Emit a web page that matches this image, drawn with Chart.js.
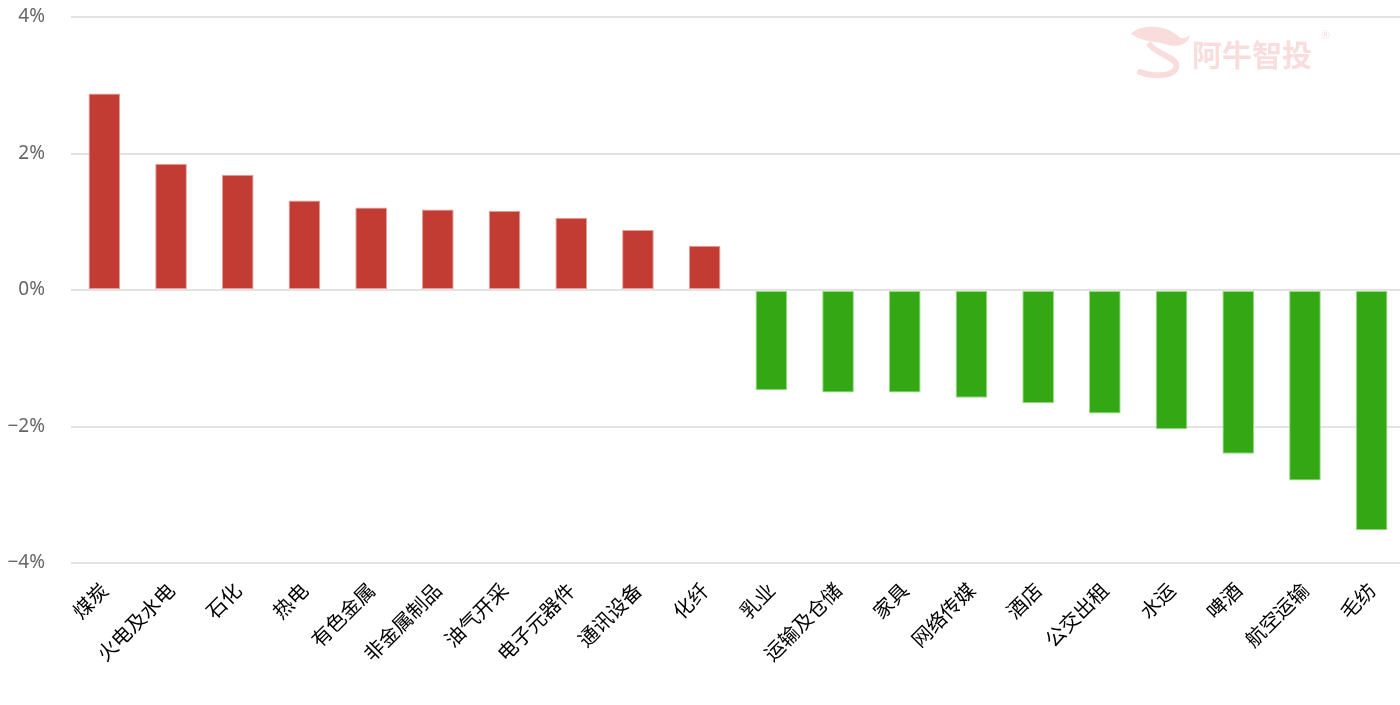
<!DOCTYPE html>
<html>
<head>
<meta charset="utf-8">
<script src="https://cdn.jsdelivr.net/npm/chart.js@4.4.1/dist/chart.umd.min.js"></script>
<style>
  html, body { margin: 0; padding: 0; background: #fff; overflow: hidden; }
  #wrap { position: relative; width: 1405px; height: 705px; }
</style>
</head>
<body>
<div id="wrap"><canvas id="c"></canvas></div>
<script>
// ---- data ----
const categories = ['煤炭','火电及水电','石化','热电','有色金属','非金属制品','油气开采','电子元器件','通讯设备','化纤',
                    '乳业','运输及仓储','家具','网络传媒','酒店','公交出租','水运','啤酒','航空运输','毛纺'];
const changes = [2.88, 1.85, 1.69, 1.31, 1.21, 1.18, 1.16, 1.06, 0.88, 0.65,
                 -1.47, -1.50, -1.50, -1.58, -1.66, -1.81, -2.04, -2.40, -2.79, -3.52];
const yTicks = [-4, -2, 0, 2, 4];
const watermarkText = '阿牛智投';

const upColor = '#c23c33', upBorder = '#e3a09c';
const downColor = '#33a814', downBorder = '#98dc86';

const watermark = {
  id: 'watermark',
  beforeDatasetsDraw(chart) {
    const ctx = chart.ctx;
    ctx.save();
    ctx.fillStyle = 'rgba(236,150,150,0.32)';
    ctx.strokeStyle = 'rgba(236,150,150,0.32)';
    // logo head
    ctx.beginPath();
    ctx.moveTo(1131, 34);
    ctx.bezierCurveTo(1140, 24, 1165, 24, 1178, 36);
    ctx.bezierCurveTo(1182, 40, 1188, 38, 1190, 34);
    ctx.bezierCurveTo(1188, 46, 1176, 48, 1165, 44);
    ctx.bezierCurveTo(1155, 41, 1142, 42, 1131, 34);
    ctx.fill();
    // logo swirl
    ctx.lineWidth = 6;
    ctx.lineCap = 'round';
    ctx.beginPath();
    ctx.moveTo(1150, 45);
    ctx.bezierCurveTo(1158, 55, 1180, 58, 1176, 68);
    ctx.bezierCurveTo(1172, 78, 1150, 76, 1140, 72);
    ctx.stroke();
    // text
    ctx.font = 'bold 30px "Noto Sans CJK SC"';
    ctx.textBaseline = 'middle';
    ctx.textAlign = 'left';
    ctx.fillText(watermarkText, 1192, 55);
    ctx.font = '11px "Noto Sans"';
    ctx.fillText('®', 1321, 36);
    ctx.restore();
  }
};

new Chart(document.getElementById('c'), {
  type: 'bar',
  data: {
    labels: categories,
    datasets: [{
      data: changes,
      backgroundColor: changes.map(v => v >= 0 ? upColor : downColor),
      borderColor: changes.map(v => v >= 0 ? upBorder : downBorder),
      borderWidth: 1,
      borderSkipped: false,
      categoryPercentage: 1,
      barPercentage: 0.475
    }]
  },
  options: {
    responsive: true,
    maintainAspectRatio: false,
    animation: false,
    layout: { padding: { top: 17, right: 0, left: 0, bottom: 0 } },
    plugins: { legend: { display: false }, tooltip: { enabled: false } },
    scales: {
      x: {
        grid: { display: false, drawTicks: false },
        border: { display: false },
        ticks: {
          autoSkip: false,
          maxRotation: 45,
          minRotation: 45,
          padding: 15,
          color: '#000',
          font: { family: '"Noto Sans CJK SC"', size: 20 }
        },
        afterFit(scale) { scale.height = 142; scale.paddingTop = 0; scale.paddingBottom = 0; }
      },
      y: {
        min: -4,
        max: 4,
        afterBuildTicks(scale) { scale.ticks = yTicks.map(v => ({ value: v })); },
        grid: { color: '#e3e3e3', lineWidth: 2, drawTicks: false },
        border: { display: false },
        ticks: {
          padding: 26,
          color: '#666',
          font: { family: '"Noto Sans"', size: 19 },
          callback: v => (v < 0 ? '\u2212' + Math.abs(v) : v) + '%'
        },
        afterFit(scale) { scale.width = 71; scale.paddingTop = 0; scale.paddingBottom = 0; }
      }
    }
  },
  plugins: [watermark]
});
</script>
</body>
</html>
